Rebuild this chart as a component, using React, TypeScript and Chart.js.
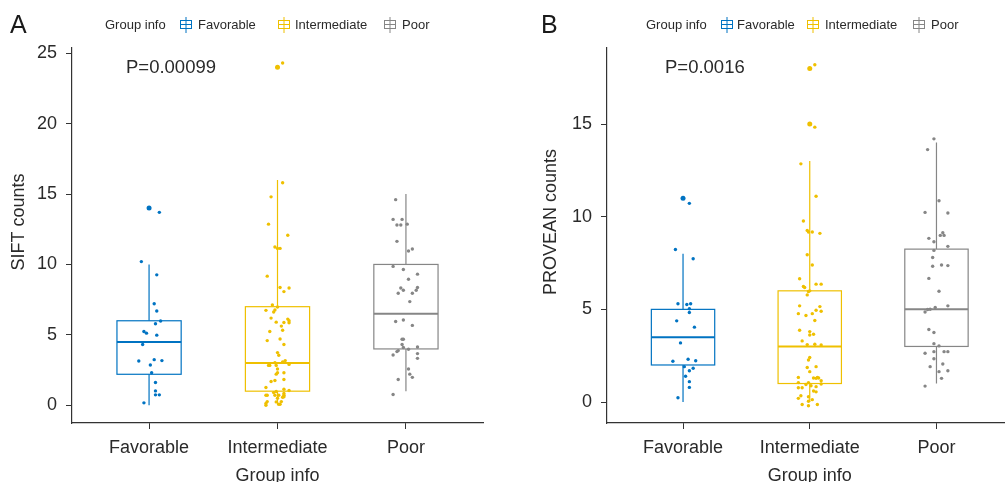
import React, { useEffect, useRef } from "react";
import { Chart, registerables } from "chart.js";

Chart.register(...registerables);

// ---------- data ----------
const categories = ["Favorable", "Intermediate", "Poor"];
const groupColors = ["#0073C2", "#EFC000", "#868686"];
const legendTitle = "Group info";
const xTitle = "Group info";

// Panel A (SIFT)
const siftTicks = [0, 5, 10, 15, 20, 25];
const siftFavValues = [13.7, 10.2, 9.26, 7.21, 6.69, 5.98, 5.79, 5.24, 5.12, 4.98, 4.31, 3.14, 3.24, 3.17, 2.86, 2.31, 1.62, 1.02, 0.74, 0.74, 0.17];
const siftFavJitter = [0.08, -0.06, 0.06, 0.04, 0.06, 0.09, 0.05, -0.04, -0.02, 0.06, -0.05, -0.08, 0.04, 0.1, 0.01, 0.02, 0.05, 0.05, 0.05, 0.08, -0.04];
const siftFavOutliers = [14.0];
const siftIntValues = [24.3, 15.8, 14.8, 12.86, 12.07, 11.24, 11.14, 11.14, 9.17, 8.36, 8.33, 8.07, 7.12, 6.74, 6.62, 6.76, 6.98, 6.19, 6.12, 6.0, 5.86, 5.9, 5.88, 5.62, 5.33, 5.24, 4.71, 4.59, 4.31, 3.74, 3.55, 3.07, 3.17, 3.02, 2.83, 2.83, 2.83, 2.9, 2.57, 2.21, 2.31, 2.31, 1.69, 1.76, 1.83, 1.26, 1.14, 1.05, 0.9, 0.98, 0.71, 0.71, 0.71, 0.71, 0.71, 0.83, 0.57, 0.6, 0.26, 0.12, 0.0, 0.24, 0.26, 0.07, 0.07, 0.5];
const siftIntJitter = [0.04, 0.04, -0.05, -0.07, 0.08, -0.02, 0, 0.02, -0.08, 0.02, 0.09, 0.05, -0.04, -0.09, -0.03, -0.02, 0, -0.05, 0.08, 0.09, 0.09, -0.01, 0.05, 0.03, 0.04, -0.06, 0.02, -0.08, 0.05, 0, 0.01, 0.04, 0.06, -0.02, -0.07, -0.06, -0.01, 0.09, 0, -0.01, 0, 0.05, -0.05, -0.02, 0.05, -0.09, 0.05, 0.09, -0.03, -0.01, -0.08, -0.09, -0.02, 0.01, 0.05, 0.05, 0.04, 0.05, -0.08, -0.09, -0.09, -0.01, 0.03, 0.01, 0.02, 0];
const siftIntOutliers = [24.0];
const siftPoorValues = [14.6, 13.2, 13.2, 12.8, 12.8, 12.86, 11.64, 10.95, 11.1, 9.86, 9.64, 9.31, 8.95, 8.33, 8.17, 8.36, 8.17, 7.95, 7.95, 7.36, 5.95, 6.05, 5.67, 4.69, 4.69, 4.31, 4.1, 3.88, 3.81, 3.98, 4.14, 3.57, 3.67, 3.33, 2.57, 2.21, 1.98, 1.83, 0.76];
const siftPoorJitter = [-0.08, -0.1, -0.03, -0.07, -0.04, 0.01, -0.07, 0.02, 0.05, -0.1, -0.02, 0.09, 0.02, -0.04, -0.02, 0.09, 0.08, -0.06, 0.05, 0.03, -0.08, -0.02, 0.05, -0.03, -0.02, -0.03, -0.02, -0.06, -0.07, 0.02, 0.09, -0.1, 0.09, 0.09, 0.02, 0.03, 0.05, -0.06, -0.1];
const siftPoorOutliers: number[] = [];
const siftQ1 = [2.2, 1, 4];
const siftMedian = [4.5, 3, 6.5];
const siftQ3 = [6, 7, 10];
const siftWhiskerLow = [0, 0, 1];
const siftWhiskerHigh = [10, 16, 15];

// Panel B (PROVEAN)
const proveanTicks = [0, 5, 10, 15];
const provFavValues = [10.72, 8.23, 7.73, 5.3, 5.26, 5.3, 5.03, 4.83, 4.38, 4.04, 3.19, 2.2, 2.31, 2.23, 1.91, 1.82, 1.69, 1.39, 1.1, 0.79, 0.23];
const provFavJitter = [0.05, -0.06, 0.08, -0.04, 0.03, 0.06, 0.05, 0.05, -0.05, 0.09, -0.02, -0.08, 0.04, 0.1, 0.01, 0.08, 0.05, 0.02, 0.05, 0.05, -0.04];
const provFavOutliers = [11.0];
const provIntValues = [18.2, 14.83, 12.85, 11.1, 9.77, 9.26, 9.17, 9.17, 9.1, 7.95, 7.39, 6.65, 6.23, 6.18, 6.0, 5.96, 6.36, 6.36, 5.78, 5.19, 5.15, 4.95, 4.9, 4.77, 4.77, 4.67, 4.4, 3.87, 3.8, 3.62, 3.66, 3.3, 3.1, 3.12, 3.08, 2.4, 2.27, 1.86, 1.91, 1.64, 1.3, 1.28, 1.33, 1.3, 1.15, 1.33, 1.05, 0.95, 1.05, 0.88, 0.97, 0.77, 0.77, 0.6, 0.55, 0.83, 0.34, 0.2, 0.29, 0.13, 0.04, -0.13, -0.2, -0.13];
const provIntJitter = [0.04, 0.04, -0.07, 0.05, -0.05, -0.02, -0.01, 0.02, 0.08, -0.02, 0.02, -0.08, -0.05, -0.04, 0, -0.01, 0.05, 0.09, -0.02, -0.08, 0.08, 0.05, 0.09, -0.09, 0.02, -0.03, 0.04, -0.08, 0, 0, 0.03, -0.06, -0.02, 0.04, 0.09, 0, -0.01, -0.02, 0.05, 0, 0.03, 0.05, 0.06, 0.07, 0.09, -0.09, -0.09, -0.03, -0.01, 0.01, 0.09, -0.09, -0.06, 0.03, 0.05, 0.05, -0.07, -0.09, -0.01, 0.02, -0.01, -0.06, -0.01, 0.06];
const provIntOutliers = [18.0, 15.0];
const provPoorValues = [14.2, 13.62, 10.86, 10.23, 10.2, 9.13, 8.99, 8.99, 8.83, 8.65, 8.4, 8.18, 7.8, 7.33, 7.39, 7.36, 6.67, 5.98, 5.19, 5.1, 4.99, 5.01, 4.86, 3.91, 3.75, 3.15, 3.03, 2.63, 2.72, 2.72, 2.72, 2.34, 1.91, 2.05, 1.64, 1.69, 1.28, 0.86];
const provPoorJitter = [-0.02, -0.07, 0.02, -0.09, 0.09, 0.05, 0.03, 0.06, -0.06, -0.02, 0.09, -0.02, -0.03, -0.03, 0.04, 0.09, -0.06, 0.02, 0.09, -0.01, -0.07, -0.05, -0.09, -0.06, -0.02, -0.02, 0.02, -0.09, -0.02, 0.06, 0.09, -0.02, -0.05, 0.05, 0.02, 0.09, 0.04, -0.09];
const provPoorOutliers: number[] = [];
const provQ1 = [2, 1, 3];
const provMedian = [3.5, 3, 5];
const provQ3 = [5, 6, 8.25];
const provWhiskerLow = [0, 0, 1];
const provWhiskerHigh = [8, 13, 14];

// ---------- styling / layout ----------
const FONT = "'Liberation Sans', Arial, Helvetica, sans-serif";
const AXIS_COLOR = "#333333";
const TEXT_COLOR = "#2a2a2a";
const BOX_WIDTH = 0.5;

type Group = { values: number[]; jitter: number[]; outliers: number[] };
type Panel = {
  letter: string;
  yTitle: string;
  pText: string;
  yMin: number;
  yMax: number;
  yTicks: number[];
  groups: Group[];
  q1: number[];
  median: number[];
  q3: number[];
  lo: number[];
  hi: number[];
  areaLeft: number;
  padRight: number;
  yTitleX: number;
  letterX: number;
  pX: number;
  legendTitleX: number;
  iconX: number[];
  textX: number[];
};

const panelA: Panel = {
  letter: "A",
  yTitle: "SIFT counts",
  pText: "P=0.00099",
  yMin: -1.26,
  yMax: 25.37,
  yTicks: siftTicks,
  groups: [
    { values: siftFavValues, jitter: siftFavJitter, outliers: siftFavOutliers },
    { values: siftIntValues, jitter: siftIntJitter, outliers: siftIntOutliers },
    { values: siftPoorValues, jitter: siftPoorJitter, outliers: siftPoorOutliers },
  ],
  q1: siftQ1,
  median: siftMedian,
  q3: siftQ3,
  lo: siftWhiskerLow,
  hi: siftWhiskerHigh,
  areaLeft: 72,
  padRight: 17,
  yTitleX: 19,
  letterX: 10,
  pX: 126,
  legendTitleX: 105,
  iconX: [180, 278, 384],
  textX: [198, 295, 402],
};

const panelB: Panel = {
  letter: "B",
  yTitle: "PROVEAN counts",
  pText: "P=0.0016",
  yMin: -1.13,
  yMax: 19.1,
  yTicks: proveanTicks,
  groups: [
    { values: provFavValues, jitter: provFavJitter, outliers: provFavOutliers },
    { values: provIntValues, jitter: provIntJitter, outliers: provIntOutliers },
    { values: provPoorValues, jitter: provPoorJitter, outliers: provPoorOutliers },
  ],
  q1: provQ1,
  median: provMedian,
  q3: provQ3,
  lo: provWhiskerLow,
  hi: provWhiskerHigh,
  areaLeft: 107,
  padRight: 0,
  yTitleX: 51,
  letterX: 41,
  pX: 165,
  legendTitleX: 146,
  iconX: [221, 307, 413],
  textX: [237, 325, 431],
};

function buildConfig(p: Panel): any {
  const datasets: any[] = [];
  p.groups.forEach((g, i) => {
    datasets.push({
      type: "scatter",
      data: g.values.map((v, j) => ({ x: i + 1 + (g.jitter[j] ?? 0), y: v })),
      backgroundColor: groupColors[i],
      borderWidth: 0,
      pointRadius: 1.7,
      pointHoverRadius: 1.7,
    });
    datasets.push({
      type: "scatter",
      data: g.outliers.map((v) => ({ x: i + 1, y: v })),
      backgroundColor: groupColors[i],
      borderWidth: 0,
      pointRadius: 2.5,
      pointHoverRadius: 2.5,
    });
  });

  const boxPlugin = {
    id: "boxes" + p.letter,
    beforeDatasetsDraw(chart: any) {
      const { ctx } = chart;
      const xs = chart.scales.x;
      const ys = chart.scales.y;
      ctx.save();
      for (let i = 0; i < categories.length; i++) {
        const cx = xs.getPixelForValue(i + 1);
        const half = xs.getPixelForValue(i + 1 + BOX_WIDTH / 2) - cx;
        const yq1 = ys.getPixelForValue(p.q1[i]);
        const yq3 = ys.getPixelForValue(p.q3[i]);
        const ymed = ys.getPixelForValue(p.median[i]);
        const ylo = ys.getPixelForValue(p.lo[i]);
        const yhi = ys.getPixelForValue(p.hi[i]);
        ctx.strokeStyle = groupColors[i];
        ctx.lineWidth = 1.2;
        ctx.beginPath();
        ctx.moveTo(cx, yhi);
        ctx.lineTo(cx, yq3);
        ctx.moveTo(cx, yq1);
        ctx.lineTo(cx, ylo);
        ctx.stroke();
        ctx.strokeRect(cx - half, yq3, half * 2, yq1 - yq3);
        ctx.lineWidth = 2;
        ctx.beginPath();
        ctx.moveTo(cx - half, ymed);
        ctx.lineTo(cx + half, ymed);
        ctx.stroke();
      }
      ctx.restore();
    },
  };

  const annotPlugin = {
    id: "annot" + p.letter,
    afterDraw(chart: any) {
      const { ctx } = chart;
      ctx.save();
      ctx.textBaseline = "middle";
      ctx.textAlign = "left";
      // panel letter
      ctx.fillStyle = "#1a1a1a";
      ctx.font = `25px ${FONT}`;
      ctx.fillText(p.letter, p.letterX, 26);
      // legend
      ctx.fillStyle = TEXT_COLOR;
      ctx.font = `13px ${FONT}`;
      ctx.fillText(legendTitle, p.legendTitleX, 25);
      for (let i = 0; i < categories.length; i++) {
        const ix = p.iconX[i];
        ctx.strokeStyle = groupColors[i];
        ctx.lineWidth = 1;
        ctx.beginPath();
        ctx.moveTo(ix + 6, 17);
        ctx.lineTo(ix + 6, 33);
        ctx.stroke();
        ctx.strokeRect(ix + 0.5, 20.5, 11, 8);
        ctx.beginPath();
        ctx.moveTo(ix, 24.5);
        ctx.lineTo(ix + 12, 24.5);
        ctx.stroke();
        ctx.fillStyle = TEXT_COLOR;
        ctx.fillText(categories[i], p.textX[i], 25);
      }
      // p-value
      ctx.font = `18.5px ${FONT}`;
      ctx.fillStyle = TEXT_COLOR;
      ctx.fillText(p.pText, p.pX, 68);
      // y-axis title
      ctx.font = `18px ${FONT}`;
      ctx.textAlign = "center";
      ctx.translate(p.yTitleX, 222);
      ctx.rotate(-Math.PI / 2);
      ctx.fillText(p.yTitle, 0, 0);
      ctx.restore();
    },
  };

  return {
    type: "scatter",
    data: { datasets },
    plugins: [boxPlugin, annotPlugin],
    options: {
      responsive: false,
      animation: false,
      devicePixelRatio: 1,
      events: [],
      layout: { padding: { left: 0, right: p.padRight, top: 48, bottom: 0 } },
      plugins: {
        legend: { display: false },
        tooltip: { enabled: false },
        title: { display: false },
      },
      scales: {
        x: {
          type: "linear",
          min: 0.4,
          max: 3.6,
          afterBuildTicks: (s: any) => {
            s.ticks = categories.map((_, i) => ({ value: i + 1 }));
          },
          afterFit: (s: any) => {
            s.height = 59;
          },
          ticks: {
            autoSkip: false,
            maxRotation: 0,
            padding: 8,
            color: TEXT_COLOR,
            font: { family: FONT, size: 18 },
            callback: (v: any) => categories[Math.round(Number(v)) - 1] ?? "",
          },
          grid: { drawOnChartArea: false, drawTicks: true, tickLength: 6, color: AXIS_COLOR, lineWidth: 1 },
          border: { display: true, color: AXIS_COLOR, width: 1.2 },
          title: {
            display: true,
            text: xTitle,
            color: TEXT_COLOR,
            font: { family: FONT, size: 18, lineHeight: 1 },
            padding: { top: 0, bottom: -3 },
          },
        },
        y: {
          type: "linear",
          min: p.yMin,
          max: p.yMax,
          afterBuildTicks: (s: any) => {
            s.ticks = p.yTicks.map((v) => ({ value: v }));
          },
          afterFit: (s: any) => {
            s.width = p.areaLeft;
          },
          ticks: {
            padding: 9,
            color: TEXT_COLOR,
            font: { family: FONT, size: 18 },
            callback: (v: any) => String(v),
          },
          grid: { drawOnChartArea: false, drawTicks: true, tickLength: 6, color: AXIS_COLOR, lineWidth: 1 },
          border: { display: true, color: AXIS_COLOR, width: 1.2 },
          title: { display: false },
        },
      },
    },
  };
}

export default function App() {
  const refA = useRef<HTMLCanvasElement>(null);
  const refB = useRef<HTMLCanvasElement>(null);
  useEffect(() => {
    const a = new Chart(refA.current as HTMLCanvasElement, buildConfig(panelA));
    const b = new Chart(refB.current as HTMLCanvasElement, buildConfig(panelB));
    return () => {
      a.destroy();
      b.destroy();
    };
  }, []);
  return (
    <div style={{ position: "absolute", left: 0, top: 0, width: 1005, height: 482, overflow: "hidden", background: "#ffffff" }}>
      <canvas ref={refA} width={500} height={482} style={{ position: "absolute", left: 0, top: 0 }} />
      <canvas ref={refB} width={515} height={482} style={{ position: "absolute", left: 500, top: 0 }} />
    </div>
  );
}
